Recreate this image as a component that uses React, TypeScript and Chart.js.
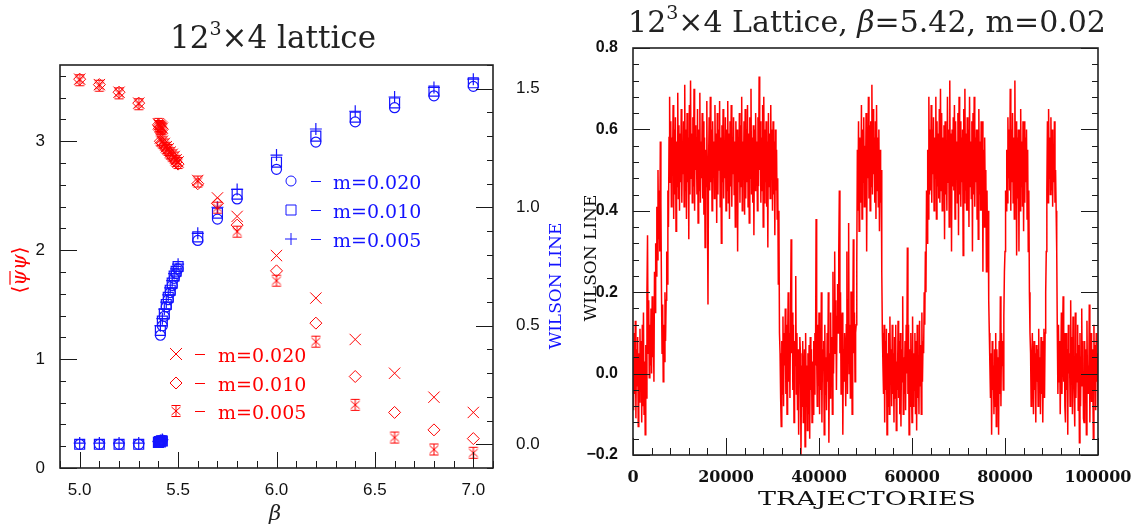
import React, { useEffect, useRef } from 'react';
import { Chart, registerables } from 'chart.js';
Chart.register(...registerables);

// ---------------- Left panel data ----------------
const betaMain = [5.0, 5.1, 5.2, 5.3, 5.6, 5.7, 5.8, 6.0, 6.2, 6.4, 6.6, 6.8, 7.0];
const betaConf = [5.40, 5.405, 5.41, 5.415, 5.42];
const betaDeconf = [5.41, 5.42, 5.43, 5.44, 5.45, 5.46, 5.47, 5.48, 5.49, 5.50];

// <psibar psi>
const pbp020Main = [3.57, 3.52, 3.45, 3.35, 2.64, 2.48, 2.31, 1.95, 1.56, 1.18, 0.87, 0.65, 0.51];
const pbp010Main = [3.57, 3.52, 3.45, 3.35, 2.61, 2.43, 2.23, 1.81, 1.33, 0.84, 0.51, 0.35, 0.27];
const pbp005Main = [3.56, 3.51, 3.44, 3.34, 2.63, 2.39, 2.17, 1.72, 1.16, 0.58, 0.28, 0.17, 0.14];
const pbp020Conf = [3.16, 3.15, 3.14, 3.13, 3.12];
const pbp010Conf = [3.15, 3.14, 3.13, 3.12, 3.11];
const pbp005Conf = [3.16, 3.14, 3.13, 3.12, 3.11];
const pbp020Deconf = [3.03, 3.00, 2.98, 2.95, 2.93, 2.90, 2.88, 2.86, 2.83, 2.81];
const pbp010Deconf = [3.00, 2.98, 2.96, 2.93, 2.91, 2.88, 2.86, 2.84, 2.81, 2.79];
const pbp005Deconf = [3.01, 2.99, 2.97, 2.94, 2.92, 2.89, 2.87, 2.85, 2.82, 2.80];

// Wilson line
const wl020Main = [0.0, 0.0, 0.0, 0.0, 0.86, 0.95, 1.035, 1.16, 1.275, 1.36, 1.42, 1.47, 1.51];
const wl010Main = [0.0, 0.0, 0.0, 0.0, 0.875, 0.975, 1.055, 1.19, 1.30, 1.38, 1.44, 1.49, 1.525];
const wl005Main = [0.005, 0.005, 0.005, 0.005, 0.89, 1.0, 1.075, 1.22, 1.33, 1.405, 1.465, 1.505, 1.54];
const wl020Conf = [0.010, 0.012, 0.015, 0.012, 0.018];
const wl010Conf = [0.008, 0.012, 0.010, 0.015, 0.014];
const wl005Conf = [0.012, 0.010, 0.016, 0.014, 0.020];
const wl020Deconf = [0.46, 0.50, 0.54, 0.58, 0.61, 0.64, 0.67, 0.70, 0.72, 0.74];
const wl010Deconf = [0.48, 0.52, 0.55, 0.59, 0.62, 0.65, 0.68, 0.71, 0.73, 0.75];
const wl005Deconf = [0.50, 0.53, 0.57, 0.60, 0.63, 0.66, 0.69, 0.72, 0.74, 0.76];

const leftXTicks = [5.0, 5.5, 6.0, 6.5, 7.0];
const leftYTicks = [0, 1, 2, 3];
const leftY2Ticks = [0.0, 0.5, 1.0, 1.5];
const massLabels = ['m=0.020', 'm=0.010', 'm=0.005'];

// ---------------- Right panel data ----------------
const trajStep = 125;
const wilsonHistory = [
  0.04, -0.09, 0.10, -0.05, 0.13, -0.11, 0.06, -0.03,
  0.09, -0.13, 0.05, -0.07, 0.11, -0.04, 0.08, -0.12,
  0.12, -0.08, 0.15, -0.10, 0.03, -0.15, 0.07, -0.06,
  0.20, 0.34, 0.05, 0.18, -0.01, 0.12, 0.02, 0.16,
  0.00, 0.19, 0.04, 0.13, -0.02, 0.25, 0.15, 0.32,
  0.24, 0.41, 0.28, 0.50, 0.33, 0.45, 0.30, 0.57,
  0.42, 0.20, 0.05, 0.17, -0.02, 0.12, 0.03, 0.20,
  0.08, 0.18, 0.30, 0.22, 0.45, 0.36, 0.58, 0.68,
  0.47, 0.62, 0.41, 0.58, 0.50, 0.66, 0.38, 0.60,
  0.44, 0.63, 0.35, 0.57, 0.46, 0.69, 0.43, 0.61,
  0.40, 0.59, 0.47, 0.65, 0.42, 0.56, 0.49, 0.62,
  0.41, 0.71, 0.45, 0.60, 0.38, 0.64, 0.47, 0.58,
  0.33, 0.66, 0.44, 0.72, 0.48, 0.59, 0.42, 0.63,
  0.46, 0.70, 0.40, 0.61, 0.50, 0.58, 0.44, 0.65,
  0.37, 0.60, 0.45, 0.69, 0.42, 0.57, 0.48, 0.64,
  0.43, 0.62, 0.39, 0.58, 0.31, 0.55, 0.46, 0.67,
  0.41, 0.17, 0.52, 0.63, 0.45, 0.68, 0.47, 0.60,
  0.40, 0.62, 0.49, 0.57, 0.43, 0.66, 0.46, 0.59,
  0.37, 0.64, 0.44, 0.60, 0.50, 0.67, 0.41, 0.58,
  0.32, 0.61, 0.47, 0.65, 0.43, 0.56, 0.48, 0.63,
  0.40, 0.60, 0.45, 0.67, 0.42, 0.59, 0.38, 0.62,
  0.46, 0.66, 0.41, 0.58, 0.49, 0.63, 0.44, 0.57,
  0.36, 0.62, 0.45, 0.60, 0.30, 0.58, 0.47, 0.64,
  0.42, 0.61, 0.46, 0.68, 0.40, 0.57, 0.48, 0.62,
  0.39, 0.65, 0.43, 0.60, 0.47, 0.66, 0.41, 0.59,
  0.37, 0.63, 0.48, 0.70, 0.44, 0.58, 0.42, 0.61,
  0.34, 0.60, 0.45, 0.64, 0.49, 0.57, 0.40, 0.63,
  0.46, 0.73, 0.50, 0.62, 0.42, 0.58, 0.45, 0.66,
  0.36, 0.68, 0.42, 0.60, 0.47, 0.62, 0.41, 0.57,
  0.31, 0.64, 0.46, 0.59, 0.43, 0.66, 0.48, 0.60,
  0.40, 0.62, 0.44, 0.57, 0.34, 0.60, 0.45, 0.55,
  0.38, 0.48, 0.22, 0.40, 0.10, 0.05, -0.06, -0.13,
  0.08, -0.05, 0.14, -0.08, 0.10, 0.02, 0.16, -0.05,
  0.12, -0.10, 0.07, 0.20, -0.02, 0.10, -0.06, 0.14,
  0.33, 0.05, 0.15, -0.04, 0.12, -0.12, 0.08, 0.02,
  0.24, -0.05, 0.10, -0.09, 0.06, -0.15, 0.03, 0.09,
  0.05, -0.20, 0.02, -0.08, 0.08, -0.12, -0.02, 0.06,
  -0.18, 0.10, -0.06, 0.02, -0.14, 0.05, -0.10, 0.07,
  -0.16, 0.09, -0.04, 0.06, -0.12, 0.03, -0.10, 0.08,
  -0.05, 0.10, 0.02, 0.38, 0.05, -0.08, 0.12, -0.03,
  0.15, -0.10, 0.08, -0.04, 0.20, -0.12, 0.06, 0.01,
  0.08, -0.15, 0.12, -0.05, 0.04, -0.09, 0.10, -0.02,
  0.20, -0.17, 0.05, -0.06, 0.15, -0.02, 0.09, -0.10,
  0.25, 0.00, 0.12, 0.30, 0.05, 0.18, -0.04, 0.14,
  0.22, 0.10, 0.30, 0.45, 0.05, 0.20, -0.05, 0.12,
  0.15, -0.15, 0.06, -0.02, 0.10, 0.05, -0.08, 0.12,
  0.30, -0.05, 0.18, 0.37, 0.00, 0.12, -0.06, 0.20,
  0.20, -0.10, 0.08, 0.33, 0.05, 0.15, -0.02, 0.10,
  0.12, 0.28, 0.55, 0.40, 0.62, 0.35, 0.58, 0.45,
  0.42, 0.66, 0.38, 0.60, 0.47, 0.63, 0.41, 0.56,
  0.45, 0.64, 0.30, 0.59, 0.48, 0.68, 0.43, 0.61,
  0.40, 0.62, 0.46, 0.71, 0.44, 0.65, 0.49, 0.58,
  0.42, 0.62, 0.38, 0.66, 0.45, 0.58, 0.41, 0.60,
  0.35, 0.55, 0.42, 0.50, 0.25, 0.10, 0.02, -0.05,
  0.12, -0.12, 0.08, -0.04, 0.11, -0.15, 0.05, -0.08,
  0.10, -0.10, 0.14, -0.02, 0.06, -0.08, 0.12, -0.05,
  0.05, -0.12, 0.09, -0.06, 0.12, -0.14, 0.03, -0.04,
  0.13, -0.06, 0.08, -0.10, 0.10, -0.13, 0.06, -0.02,
  0.19, -0.10, 0.04, -0.05, 0.08, -0.09, 0.12, 0.00,
  0.31, -0.05, 0.12, -0.15, 0.06, -0.08, 0.10, -0.02,
  -0.12, 0.14, -0.08, 0.05, -0.04, 0.10, -0.10, 0.08,
  -0.14, 0.12, -0.06, 0.04, -0.10, 0.13, -0.03, 0.07,
  -0.10, 0.15, -0.02, 0.08, 0.05, 0.20, 0.12, 0.30,
  0.20, 0.45, 0.32, 0.55, 0.38, 0.68, 0.44, 0.60,
  0.45, 0.66, 0.42, 0.60, 0.49, 0.63, 0.40, 0.58,
  0.48, 0.68, 0.38, 0.62, 0.46, 0.59, 0.43, 0.65,
  0.42, 0.70, 0.45, 0.64, 0.40, 0.58, 0.48, 0.61,
  0.33, 0.62, 0.44, 0.57, 0.40, 0.68, 0.47, 0.60,
  0.36, 0.72, 0.42, 0.59, 0.30, 0.60, 0.46, 0.63,
  0.45, 0.66, 0.38, 0.62, 0.49, 0.57, 0.42, 0.64,
  0.34, 0.68, 0.44, 0.62, 0.41, 0.58, 0.47, 0.60,
  0.29, 0.65, 0.42, 0.70, 0.45, 0.59, 0.40, 0.63,
  0.40, 0.60, 0.36, 0.68, 0.46, 0.57, 0.43, 0.62,
  0.30, 0.64, 0.44, 0.68, 0.41, 0.58, 0.47, 0.60,
  0.38, 0.60, 0.33, 0.65, 0.44, 0.57, 0.40, 0.62,
  0.40, 0.62, 0.25, 0.55, 0.36, 0.58, 0.42, 0.50,
  0.25, 0.45, 0.30, 0.40, 0.18, 0.10, 0.02, -0.06,
  0.05, -0.15, 0.08, -0.04, 0.02, -0.10, 0.06, -0.08,
  0.10, -0.13, 0.06, -0.03, 0.04, -0.15, 0.08, -0.05,
  0.19, -0.08, 0.10, 0.02, 0.08, -0.04, 0.14, 0.25,
  0.30, 0.45, 0.40, 0.55, 0.42, 0.63, 0.48, 0.60,
  0.45, 0.70, 0.40, 0.60, 0.47, 0.64, 0.42, 0.58,
  0.38, 0.72, 0.45, 0.62, 0.29, 0.58, 0.43, 0.60,
  0.30, 0.60, 0.40, 0.65, 0.46, 0.57, 0.41, 0.62,
  0.35, 0.62, 0.42, 0.58, 0.47, 0.60, 0.38, 0.55,
  0.30, 0.45, 0.20, 0.10, 0.05, -0.08, 0.02, 0.10,
  0.10, -0.10, 0.08, -0.04, 0.05, -0.12, 0.07, -0.02,
  0.06, -0.08, 0.11, -0.03, 0.04, -0.10, 0.09, -0.05,
  0.08, -0.12, 0.03, 0.11, -0.06, 0.10, 0.20, 0.30,
  0.45, 0.62, 0.42, 0.65, 0.48, 0.58, 0.44, 0.63,
  0.45, 0.60, 0.41, 0.55, 0.47, 0.62, 0.42, 0.50,
  0.40, 0.30, 0.10, -0.05, 0.12, -0.02, 0.08, -0.10,
  -0.10, 0.15, -0.05, 0.08, 0.19, -0.02, 0.10, -0.08,
  -0.12, 0.10, -0.04, 0.06, -0.15, 0.12, 0.00, 0.05,
  -0.08, 0.18, -0.02, 0.09, -0.10, 0.14, 0.03, -0.05,
  -0.13, 0.15, -0.06, 0.05, -0.02, 0.12, -0.09, 0.07,
  -0.17, 0.10, -0.08, 0.04, 0.16, -0.03, 0.08, -0.11,
  -0.12, 0.08, -0.03, 0.06, -0.15, 0.13, -0.05, 0.02,
  -0.05, 0.17, -0.12, 0.04, 0.10, -0.07, 0.06, -0.02,
  -0.16, 0.12, -0.04, 0.07, -0.09, 0.10, -0.02, 0.05,
  -0.08,
];
const rightXTicks = [0, 20000, 40000, 60000, 80000, 100000];
const rightYTicks = [-0.2, 0.0, 0.2, 0.4, 0.6, 0.8];

// ---------------- helpers ----------------
const RED = 'rgb(255,0,0)';
const BLUE = 'rgb(20,20,255)';
const SERIF = '"DejaVu Serif", serif';

const zip = (xs: number[], ys: number[]) => xs.map((x, i) => ({ x, y: ys[i] }));

function makeStarMarker(color: string) {
  const c = document.createElement('canvas');
  c.width = 14; c.height = 14;
  const g = c.getContext('2d')!;
  g.strokeStyle = color; g.lineWidth = 1;
  g.beginPath();
  g.moveTo(7, 1.5); g.lineTo(7, 12.5);
  g.moveTo(2.5, 3); g.lineTo(11.5, 11);
  g.moveTo(11.5, 3); g.lineTo(2.5, 11);
  g.moveTo(2.5, 1.5); g.lineTo(11.5, 1.5);
  g.moveTo(2.5, 12.5); g.lineTo(11.5, 12.5);
  g.stroke();
  return c;
}

function drawSym(ctx: any, kind: string, x: number, y: number, star?: any) {
  ctx.beginPath();
  if (kind === 'circle') ctx.arc(x, y, 5, 0, Math.PI * 2);
  else if (kind === 'rect') ctx.rect(x - 5, y - 5, 10, 10);
  else if (kind === 'cross') { ctx.moveTo(x - 6, y); ctx.lineTo(x + 6, y); ctx.moveTo(x, y - 6); ctx.lineTo(x, y + 6); }
  else if (kind === 'crossRot') { ctx.moveTo(x - 6, y - 6); ctx.lineTo(x + 6, y + 6); ctx.moveTo(x + 6, y - 6); ctx.lineTo(x - 6, y + 6); }
  else if (kind === 'rectRot') { ctx.moveTo(x, y - 6); ctx.lineTo(x + 6, y); ctx.lineTo(x, y + 6); ctx.lineTo(x - 6, y); ctx.closePath(); }
  ctx.stroke();
  if (kind === 'star' && star) ctx.drawImage(star, x - 7, y - 7);
}

function drawParts(ctx: any, parts: any[], x: number, y: number, center: boolean) {
  let total = 0;
  for (const p of parts) { ctx.font = p.font; total += ctx.measureText(p.t).width; }
  let cx = center ? x - total / 2 : x;
  const pos: number[] = [];
  for (const p of parts) {
    ctx.font = p.font;
    pos.push(cx);
    ctx.fillText(p.t, cx, y + (p.dy || 0));
    cx += ctx.measureText(p.t).width;
  }
  return pos;
}

function ticksPlugin(specs: any[]) {
  return {
    id: 'frameTicks',
    afterDraw(chart: any) {
      const { ctx, chartArea: a } = chart;
      ctx.save();
      ctx.strokeStyle = '#1a1a1a';
      ctx.lineWidth = 1;
      for (const s of specs) {
        const sc = chart.scales[s.id];
        const tick = (v: number, len: number) => {
          const p = Math.round(sc.getPixelForValue(v)) + 0.5;
          ctx.beginPath();
          if (s.side === 'left') { ctx.moveTo(a.left, p); ctx.lineTo(a.left + len, p); }
          else if (s.side === 'right') { ctx.moveTo(a.right, p); ctx.lineTo(a.right - len, p); }
          else { ctx.moveTo(p, a.bottom); ctx.lineTo(p, a.bottom - len); }
          ctx.stroke();
        };
        const n = Math.round((s.max - s.min) / s.minorStep);
        for (let i = 0; i <= n; i++) tick(s.min + i * s.minorStep, s.minorLen);
        for (const v of s.major) tick(v, s.majorLen);
      }
      ctx.lineWidth = 1.6;
      ctx.strokeStyle = '#222';
      ctx.strokeRect(a.left, a.top, a.right - a.left, a.bottom - a.top);
      ctx.restore();
    },
  };
}

function fixedTicks(values: number[]) {
  return (s: any) => { s.ticks = values.map((v) => ({ value: v })); };
}

export default function App() {
  const leftRef = useRef<HTMLCanvasElement>(null);
  const rightRef = useRef<HTMLCanvasElement>(null);

  useEffect(() => {
    const redStar = makeStarMarker(RED);
    const mk = (label: string, xs: number[], ys: number[], style: any, color: string, r: number, axis: string, bw: number) => ({
      label, data: zip(xs, ys), pointStyle: style, pointRadius: r, borderColor: color,
      backgroundColor: 'rgba(0,0,0,0)', pointBorderWidth: bw, borderWidth: bw, showLine: false, yAxisID: axis,
    });
    const datasets: any[] = [];
    const pbpSets = [
      ['crossRot', 8, pbp020Main, pbp020Conf, pbp020Deconf],
      ['rectRot', 6, pbp010Main, pbp010Conf, pbp010Deconf],
      [redStar, 7, pbp005Main, pbp005Conf, pbp005Deconf],
    ];
    pbpSets.forEach((s: any, i) => {
      datasets.push(mk('pbp ' + massLabels[i], betaMain, s[2], s[0], RED, s[1], 'y', 1));
      datasets.push(mk('pbp conf ' + massLabels[i], betaConf, s[3], s[0], RED, s[1], 'y', 1));
      datasets.push(mk('pbp deconf ' + massLabels[i], betaDeconf, s[4], s[0], RED, s[1], 'y', 1));
    });
    const wlSets = [
      ['circle', 5, wl020Main, wl020Conf, wl020Deconf],
      ['rect', 7, wl010Main, wl010Conf, wl010Deconf],
      ['cross', 6, wl005Main, wl005Conf, wl005Deconf],
    ];
    wlSets.forEach((s: any, i) => {
      datasets.push(mk('wl ' + massLabels[i], betaMain, s[2], s[0], BLUE, s[1], 'y2', 1.2));
      datasets.push(mk('wl conf ' + massLabels[i], betaConf, s[3], s[0], BLUE, s[1], 'y2', 1.2));
      datasets.push(mk('wl deconf ' + massLabels[i], betaDeconf, s[4], s[0], BLUE, s[1], 'y2', 1.2));
    });

    const leftText = {
      id: 'leftText',
      afterDraw(chart: any) {
        const ctx = chart.ctx;
        ctx.save();
        ctx.textAlign = 'left';
        ctx.textBaseline = 'alphabetic';
        ctx.fillStyle = '#222';
        drawParts(ctx, [
          { t: '12', font: `31px ${SERIF}` },
          { t: '3', font: `19px ${SERIF}`, dy: -13 },
          { t: '×4 lattice', font: `31px ${SERIF}` },
        ], 273, 48, true);
        // beta x label
        ctx.font = `italic 21px ${SERIF}`;
        ctx.textAlign = 'center';
        ctx.fillText('β', 275, 520);
        // left y label <psibar psi>
        ctx.save();
        ctx.translate(26, 270);
        ctx.rotate(-Math.PI / 2);
        ctx.fillStyle = RED;
        ctx.strokeStyle = RED;
        ctx.textAlign = 'left';
        const pos = drawParts(ctx, [
          { t: '⟨', font: `20px ${SERIF}` },
          { t: 'ψ', font: `italic 20px ${SERIF}` },
          { t: 'ψ', font: `italic 20px ${SERIF}` },
          { t: '⟩', font: `20px ${SERIF}` },
        ], 0, 0, true);
        ctx.lineWidth = 1.2;
        ctx.beginPath();
        ctx.moveTo(pos[1] + 1, -16);
        ctx.lineTo(pos[2] - 1, -16);
        ctx.stroke();
        ctx.restore();
        // right y label
        ctx.save();
        ctx.translate(557, 286);
        ctx.rotate(-Math.PI / 2);
        ctx.fillStyle = BLUE;
        ctx.textAlign = 'center';
        ctx.textBaseline = 'middle';
        ctx.font = `17px ${SERIF}`;
        ctx.fillText('WILSON LINE', 0, 0);
        ctx.restore();
        // legends
        const legend = (kinds: string[], color: string, sx: number, dx0: number, dx1: number, tx: number, ys: number[]) => {
          ctx.strokeStyle = color;
          ctx.fillStyle = color;
          ctx.lineWidth = 1;
          ctx.textAlign = 'left';
          ctx.font = `19px ${SERIF}`;
          kinds.forEach((k, i) => {
            drawSym(ctx, k, sx, ys[i], redStar);
            ctx.beginPath();
            ctx.moveTo(dx0, ys[i] + 0.5);
            ctx.lineTo(dx1, ys[i] + 0.5);
            ctx.stroke();
            ctx.fillText(massLabels[i], tx, ys[i] + 8);
          });
        };
        legend(['circle', 'rect', 'cross'], BLUE, 291, 311, 321, 333, [181, 210, 239]);
        legend(['crossRot', 'rectRot', 'star'], RED, 176, 195, 205, 218, [354, 383, 411]);
        ctx.restore();
      },
    };

    const tickFont = { family: '"Liberation Sans", Arial, sans-serif', size: 17 };
    const c1 = new Chart(leftRef.current!, {
      type: 'scatter',
      data: { datasets },
      options: {
        animation: false,
        responsive: false,
        devicePixelRatio: 1,
        layout: { padding: { top: 65, left: 0, right: 0, bottom: 0 } },
        plugins: { legend: { display: false }, tooltip: { enabled: false }, title: { display: false } },
        scales: {
          x: {
            type: 'linear', min: 4.9, max: 7.1,
            afterBuildTicks: fixedTicks(leftXTicks),
            afterFit: (s: any) => { s.height = 57; },
            grid: { display: false }, border: { display: false },
            ticks: { font: tickFont, color: '#111', padding: 4, callback: (v: any) => Number(v).toFixed(1) },
          },
          y: {
            type: 'linear', position: 'left', min: 0, max: 3.7,
            afterBuildTicks: fixedTicks(leftYTicks),
            afterFit: (s: any) => { s.width = 60; },
            grid: { display: false }, border: { display: false },
            ticks: { font: tickFont, color: '#111', padding: 7, callback: (v: any) => String(v) },
          },
          y2: {
            type: 'linear', position: 'right', min: -0.1, max: 1.6,
            afterBuildTicks: fixedTicks(leftY2Ticks),
            afterFit: (s: any) => { s.width = 77; },
            grid: { display: false }, border: { display: false },
            ticks: { font: tickFont, color: '#111', padding: 15, callback: (v: any) => Number(v).toFixed(1) },
          },
        },
      } as any,
      plugins: [
        ticksPlugin([
          { id: 'x', side: 'bottom', min: 4.9, max: 7.1, minorStep: 0.1, minorLen: 7, majorLen: 16, major: leftXTicks },
          { id: 'y', side: 'left', min: 0, max: 3.6, minorStep: 0.2, minorLen: 6, majorLen: 17, major: leftYTicks },
          { id: 'y2', side: 'right', min: -0.1, max: 1.6, minorStep: 0.1, minorLen: 6, majorLen: 17, major: leftY2Ticks },
        ]),
        leftText,
      ],
    });

    const rightText = {
      id: 'rightText',
      afterDraw(chart: any) {
        const ctx = chart.ctx;
        ctx.save();
        ctx.fillStyle = '#222';
        ctx.textAlign = 'left';
        ctx.textBaseline = 'alphabetic';
        drawParts(ctx, [
          { t: '12', font: `30px ${SERIF}` },
          { t: '3', font: `19px ${SERIF}`, dy: -13 },
          { t: '×4 Lattice, ', font: `30px ${SERIF}` },
          { t: 'β', font: `italic 30px ${SERIF}` },
          { t: '=5.42, m=0.02', font: `30px ${SERIF}` },
        ], 297, 32, true);
        ctx.textAlign = 'center';
        ctx.textBaseline = 'middle';
        ctx.fillStyle = '#111';
        ctx.save();
        ctx.translate(297, 500);
        ctx.scale(1.42, 1);
        ctx.font = `19px ${SERIF}`;
        ctx.fillText('TRAJECTORIES', 0, 0);
        ctx.restore();
        ctx.save();
        ctx.translate(22, 258);
        ctx.rotate(-Math.PI / 2);
        ctx.font = `17px ${SERIF}`;
        ctx.fillText('WILSON LINE', 0, 0);
        ctx.restore();
        ctx.restore();
      },
    };

    const c2 = new Chart(rightRef.current!, {
      type: 'line',
      data: {
        datasets: [{
          label: 'Wilson line',
          data: wilsonHistory.map((v, i) => ({ x: i * trajStep, y: v })),
          borderColor: RED, borderWidth: 1.5, pointRadius: 0, tension: 0, fill: false,
        }],
      },
      options: {
        animation: false,
        responsive: false,
        devicePixelRatio: 1,
        layout: { padding: { top: 48, left: 0, right: 41, bottom: 0 } },
        plugins: { legend: { display: false }, tooltip: { enabled: false }, title: { display: false } },
        scales: {
          x: {
            type: 'linear', min: 0, max: 100000,
            afterBuildTicks: fixedTicks(rightXTicks),
            afterFit: (s: any) => { s.height = 70; },
            grid: { display: false }, border: { display: false },
            ticks: { font: { family: SERIF, size: 16, weight: 'bold' }, color: '#111', padding: 5, maxRotation: 0, callback: (v: any) => String(v) },
          },
          y: {
            type: 'linear', min: -0.2, max: 0.8,
            afterBuildTicks: fixedTicks(rightYTicks),
            afterFit: (s: any) => { s.width = 63; },
            grid: { display: false }, border: { display: false },
            ticks: {
              font: { family: '"Liberation Sans", Arial, sans-serif', size: 16, weight: 'bold' }, color: '#111', padding: 7,
              callback: (v: any) => (Number(v) < 0 ? '−' + Math.abs(Number(v)).toFixed(1) : Number(v).toFixed(1)),
            },
          },
        },
      } as any,
      plugins: [
        ticksPlugin([
          { id: 'x', side: 'bottom', min: 0, max: 100000, minorStep: 4000, minorLen: 7, majorLen: 17, major: rightXTicks },
          { id: 'y', side: 'left', min: -0.2, max: 0.8, minorStep: 0.04, minorLen: 6, majorLen: 17, major: rightYTicks },
          { id: 'y', side: 'right', min: -0.2, max: 0.8, minorStep: 0.04, minorLen: 6, majorLen: 17, major: rightYTicks },
        ]),
        rightText,
      ],
    });

    return () => { c1.destroy(); c2.destroy(); };
  }, []);

  return (
    <div style={{ position: 'fixed', left: 0, top: 0, width: 1139, height: 525, background: '#fff' }}>
      <canvas ref={leftRef} width={570} height={525} style={{ position: 'absolute', left: 0, top: 0, width: 570, height: 525 }} />
      <canvas ref={rightRef} width={569} height={525} style={{ position: 'absolute', left: 570, top: 0, width: 569, height: 525 }} />
    </div>
  );
}
